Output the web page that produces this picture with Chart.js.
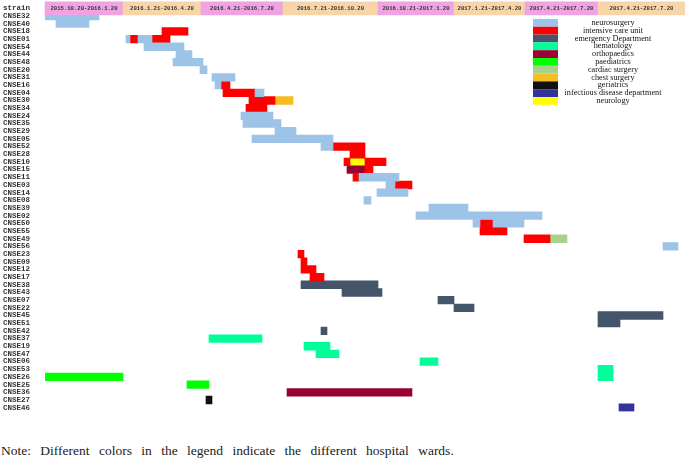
<!DOCTYPE html>
<html>
<head>
<meta charset="utf-8">
<script src="https://cdn.jsdelivr.net/npm/chart.js@4.4.1/dist/chart.umd.min.js"></script>
<style>
  body { margin: 0; background: #fff; width: 685px; height: 460px; position: relative; overflow: hidden; }
  #wrap { position: absolute; left: 0; top: 0; width: 685px; height: 416px; }
  .note { position: absolute; left: 1px; top: 443px; font: 13.5px "Liberation Serif", serif; color: #222; word-spacing: 6px; }
</style>
</head>
<body>
<div id="wrap"><canvas id="chart" width="685" height="416"></canvas></div>
<div class="note">Note: Different colors in the legend indicate the different hospital wards.</div>
<script>
// Rows, top to bottom
const strains = ['strain',
  'CNSE32', 'CNSE40', 'CNSE18', 'CNSE01', 'CNSE54', 'CNSE44', 'CNSE48', 'CNSE20', 'CNSE31', 'CNSE16',
  'CNSE04', 'CNSE30', 'CNSE34', 'CNSE24', 'CNSE35', 'CNSE29', 'CNSE05', 'CNSE52', 'CNSE28', 'CNSE10',
  'CNSE15', 'CNSE11', 'CNSE03', 'CNSE14', 'CNSE08', 'CNSE39', 'CNSE02', 'CNSE50', 'CNSE55', 'CNSE49',
  'CNSE56', 'CNSE23', 'CNSE09', 'CNSE12', 'CNSE17', 'CNSE38', 'CNSE43', 'CNSE07', 'CNSE22', 'CNSE45',
  'CNSE51', 'CNSE42', 'CNSE37', 'CNSE19', 'CNSE47', 'CNSE06', 'CNSE53', 'CNSE26', 'CNSE25', 'CNSE36',
  'CNSE27', 'CNSE46'];

// Time periods (header) and their edges on the timeline
const periods = ['2015.10.20-2016.1.20', '2016.1.21-2016.4.20', '2016.4.21-2016.7.20', '2016.7.21-2016.10.20',
  '2016.10.21-2017.1.20', '2017.1.21-2017.4.20', '2017.4.21-2017.7.20', '2017.4.21-2017.7.20'];
const periodEdges = [0, 78, 156, 238, 333, 409, 480, 553, 640];

// Ward stays: [strain, start, end] on the timeline
const neurosurgery = [
  ['CNSE32', 0, 54], ['CNSE40', 11, 44], ['CNSE01', 81, 85], ['CNSE01', 93, 107], ['CNSE54', 99, 139],
  ['CNSE44', 131, 147], ['CNSE48', 128, 158], ['CNSE20', 155, 162], ['CNSE31', 167, 190], ['CNSE16', 170, 176],
  ['CNSE04', 210, 219], ['CNSE24', 196, 228], ['CNSE35', 198, 236], ['CNSE29', 230, 251], ['CNSE05', 207, 288],
  ['CNSE52', 276, 288], ['CNSE11', 314, 354], ['CNSE03', 341, 350], ['CNSE14', 332, 363], ['CNSE08', 319, 326],
  ['CNSE39', 384, 423], ['CNSE02', 371, 497], ['CNSE50', 428, 435], ['CNSE50', 448, 479], ['CNSE56', 618, 633]];
const intensiveCare = [
  ['CNSE18', 117, 143], ['CNSE01', 85, 93], ['CNSE01', 107, 125], ['CNSE16', 176, 185], ['CNSE04', 178, 210],
  ['CNSE30', 204, 230], ['CNSE34', 201, 222], ['CNSE52', 288, 320], ['CNSE28', 305, 320], ['CNSE10', 299, 305],
  ['CNSE10', 320, 341], ['CNSE15', 320, 328], ['CNSE11', 308, 314], ['CNSE03', 350, 367], ['CNSE50', 435, 448],
  ['CNSE55', 435, 462], ['CNSE49', 479, 505], ['CNSE23', 253, 259], ['CNSE09', 256, 262], ['CNSE12', 256, 271],
  ['CNSE17', 265, 279]];
const emergency = [
  ['CNSE38', 256, 333], ['CNSE43', 297, 337], ['CNSE07', 393, 409], ['CNSE22', 409, 429], ['CNSE45', 553, 618],
  ['CNSE51', 553, 575], ['CNSE42', 276, 282]];
const hematology = [
  ['CNSE37', 164, 217], ['CNSE19', 259, 285], ['CNSE47', 271, 294], ['CNSE06', 375, 393], ['CNSE53', 553, 568],
  ['CNSE26', 553, 568]];
const orthopaedics = [['CNSE15', 302, 320], ['CNSE36', 242, 367]];
const paediatrics = [['CNSE26', 0, 78], ['CNSE25', 142, 164]];
const cardiacSurgery = [['CNSE49', 505, 522]];
const chestSurgery = [['CNSE30', 230, 248]];
const geriatrics = [['CNSE27', 161, 167]];
const infectious = [['CNSE46', 574, 589]];
const neurology = [['CNSE10', 305, 320]];

const wards = ['neurosurgery', 'intensive care unit', 'emergency Department', 'hematology', 'orthopaedics',
  'paediatrics', 'cardiac surgery', 'chest surgery', 'geriatrics', 'infectious disease department', 'neurology'];
const wardStays = [neurosurgery, intensiveCare, emergency, hematology, orthopaedics,
  paediatrics, cardiacSurgery, chestSurgery, geriatrics, infectious, neurology];
const wardColors = ['#9dc3e6', '#ff0000', '#44546a', '#00ff99', '#990033',
  '#00ff00', '#a9d18e', '#f5bd22', '#111111', '#333399', '#ffff00'];

const headerColors = periods.map((p, i) => i % 2 ? '#f8d5a8' : '#efa3e3');

const datasets = [{
  label: 'header',
  data: periods.map((p, i) => ({y: 'strain', x: [periodEdges[i], periodEdges[i + 1]]})),
  backgroundColor: headerColors,
  barThickness: 13,
  clip: false,
}].concat(wards.map((w, i) => ({
  label: w,
  data: wardStays[i].map(s => ({y: s[0], x: [s[1], s[2]]})),
  backgroundColor: wardColors[i],
  barPercentage: 1,
  categoryPercentage: 1,
})));

// period labels inside the header boxes
const headerText = {
  id: 'headerText',
  afterDatasetsDraw(chart) {
    const ctx = chart.ctx;
    ctx.save();
    ctx.font = 'bold 5.6px "Liberation Mono", monospace';
    ctx.fillStyle = '#333';
    ctx.textAlign = 'center';
    ctx.textBaseline = 'middle';
    chart.getDatasetMeta(0).data.forEach((bar, i) => {
      ctx.fillText(periods[i], (bar.x + bar.base) / 2, bar.y + 0.5);
    });
    ctx.restore();
  }
};

// legend box in the upper right
const wardLegend = {
  id: 'wardLegend',
  afterDraw(chart) {
    const ctx = chart.ctx;
    const x0 = 533, y0 = 19, h = 7.8;
    ctx.save();
    ctx.font = '8.2px "Liberation Serif", serif';
    ctx.textAlign = 'center';
    ctx.textBaseline = 'middle';
    wards.forEach((w, i) => {
      ctx.fillStyle = wardColors[i];
      ctx.fillRect(x0, y0 + i * h, 25, h);
      ctx.fillStyle = '#111';
      ctx.fillText(w, 613, y0 + i * h + h / 2);
    });
    ctx.restore();
  }
};

new Chart(document.getElementById('chart'), {
  type: 'bar',
  data: {labels: strains, datasets},
  options: {
    indexAxis: 'y',
    responsive: false,
    animation: false,
    grouped: false,
    layout: {padding: {top: 2, bottom: 2, left: 3, right: 0}},
    plugins: {legend: {display: false}, tooltip: {enabled: false}},
    scales: {
      x: {type: 'linear', min: 0, max: 640, display: false},
      y: {
        grid: {display: false},
        border: {display: false},
        afterFit(scale) { scale.width = 42; },
        ticks: {
          autoSkip: false,
          crossAlign: 'far',
          padding: 0,
          color: '#333',
          font: {family: '"Liberation Mono", monospace', size: 7.5, weight: 'bold'},
        },
      },
    },
  },
  plugins: [headerText, wardLegend],
});
</script>
</body>
</html>
